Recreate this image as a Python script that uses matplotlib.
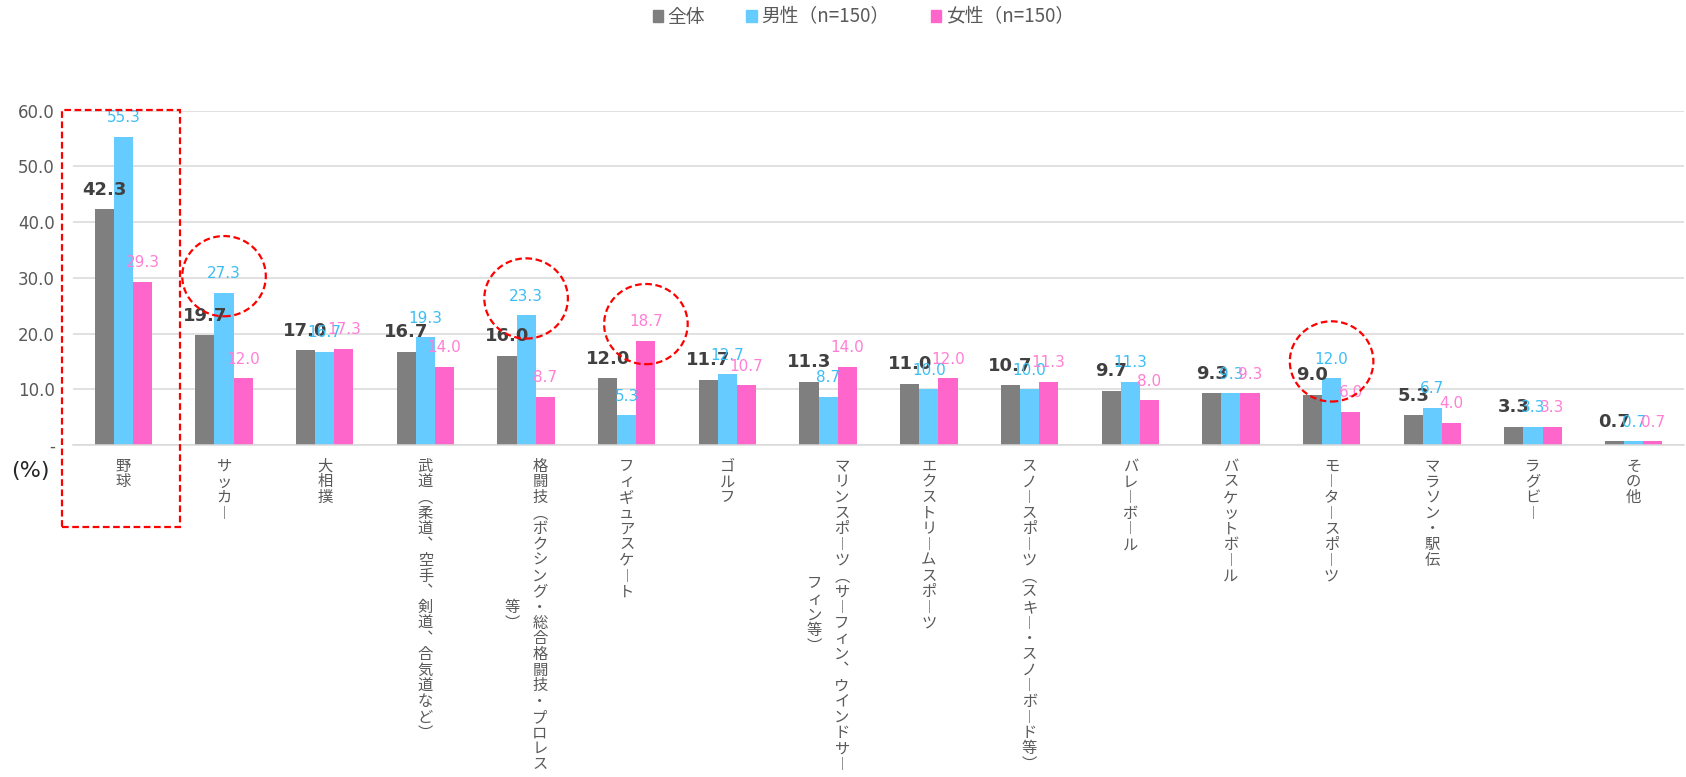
import numpy as np
import matplotlib.pyplot as plt
from matplotlib.patches import Patch, Ellipse, Rectangle

# データ
categories = ['野球', 'サッカー', '大相撲', '武道（柔道、空手、剣道、合気道など）',
              '格闘技（ボクシング・総合格闘技・プロレス等）', 'フィギュアスケート', 'ゴルフ',
              'マリンスポーツ（サーフィン、ウインドサーフィン等）', 'エクストリームスポーツ',
              'スノースポーツ（スキー・スノーボード等）', 'バレーボール', 'バスケットボール',
              'モータースポーツ', 'マラソン・駅伝', 'ラグビー', 'その他']
total = [42.3, 19.7, 17.0, 16.7, 16.0, 12.0, 11.7, 11.3, 11.0, 10.7, 9.7, 9.3, 9.0, 5.3, 3.3, 0.7]
male = [55.3, 27.3, 16.7, 19.3, 23.3, 5.3, 12.7, 8.7, 10.0, 10.0, 11.3, 9.3, 12.0, 6.7, 3.3, 0.7]
female = [29.3, 12.0, 17.3, 14.0, 8.7, 18.7, 10.7, 14.0, 12.0, 11.3, 8.0, 9.3, 6.0, 4.0, 3.3, 0.7]
legend_labels = ['全体', '男性（n=150）', '女性（n=150）']
yticks = [0, 10, 20, 30, 40, 50, 60]
ytick_labels = ['-', '10.0', '20.0', '30.0', '40.0', '50.0', '60.0']

boxed = 0                                   # 枠で囲むカテゴリ
circled = [(1, 1), (4, 1), (5, 2), (12, 1)]  # (カテゴリ, 系列) 丸で囲むラベル

JP = ['Noto Sans CJK JP', 'DejaVu Sans']
plt.rcParams['font.family'] = ['DejaVu Sans', 'Noto Sans CJK JP']

colors = ['#7F7F7F', '#66CCFF', '#FF66CC']
lab_colors = ['#404040', '#3DBDF5', '#FF7FD4']
lab_size = [13, 11, 11]
lab_weight = ['bold', 'normal', 'normal']

fig = plt.figure(figsize=(16.86, 7.77), dpi=100)
ax = fig.add_axes([73/1686, 332/777, 1611/1686, 334.3/777])

x = np.arange(len(categories))
w = 0.19
series = [total, male, female]
for k, vals in enumerate(series):
    off = (k - 1) * w
    ax.bar(x + off, vals, w, color=colors[k], zorder=2)
    for xi, v in zip(x, vals):
        ax.annotate(f'{v:.1f}', (xi + off, v), xytext=(0, 10.5), textcoords='offset points',
                    ha='center', va='baseline', color=lab_colors[k], fontsize=lab_size[k],
                    fontweight=lab_weight[k], zorder=4)

ax.set_xlim(-0.5, len(categories) - 0.5)
ax.set_ylim(0, 60)
ax.set_yticks(yticks)
ax.set_yticklabels(ytick_labels)
ax.tick_params(axis='y', length=0, pad=13, labelcolor='#595959', labelsize=12)
ax.tick_params(axis='x', length=0, labelbottom=False)
ax.yaxis.grid(True, color='#D9D9D9', lw=1.1)
ax.set_axisbelow(True)
for s in ['top', 'right', 'left']:
    ax.spines[s].set_visible(False)
ax.spines['bottom'].set_color('#D9D9D9')
ax.spines['bottom'].set_linewidth(1.1)

# 縦書きラベル
vert = str.maketrans({'ー': '︱', '（': '︵', '）': '︶', '、': '︑'})
pitch = 11.3    # pt
colgap = 19.8   # pt
for i, name in enumerate(categories):
    chars = name.translate(vert)
    cols = [chars[k:k+20] for k in range(0, len(chars), 20)]
    n0 = len(cols[0])
    for c, col in enumerate(cols):
        dx = (len(cols) - 1) / 2 * colgap - c * colgap
        dy0 = -18.5 - (n0 - len(col)) / 2 * pitch
        for j, ch in enumerate(col):
            ax.annotate(ch, (i, 0), xycoords=('data', 'axes fraction'),
                        xytext=(dx, dy0 - j * pitch), textcoords='offset points',
                        ha='center', va='baseline', fontsize=11, color='#595959',
                        family=JP, annotation_clip=False)

fig.text(30/1686, 1 - 471/777, '(%)', ha='center', va='center', fontsize=16, color='#262626')

# 強調の枠と丸
ax.add_patch(Rectangle((boxed - 0.61, -14.7), 1.17, 74.9, fill=False, edgecolor='#FF0000',
                       lw=1.6, ls=(0, (3, 1.6)), clip_on=False, zorder=5))
for ci, si in circled:
    v = series[si][ci]
    ax.add_patch(Ellipse((ci + (si - 1) * w, v + 3.0), 0.83, 14.4, fill=False,
                         edgecolor='#FF0000', lw=1.6, ls=(0, (3, 1.6)), clip_on=False, zorder=5))

handles = [Patch(color=c) for c in colors]
leg = fig.legend(handles, legend_labels, loc='center', bbox_to_anchor=(0.512, 0.978), ncol=3,
                 frameon=False, handlelength=0.55, handleheight=0.55, handletextpad=0.25,
                 columnspacing=2.2, prop={'family': JP, 'size': 13.5})
for t in leg.get_texts():
    t.set_color('#595959')

fig.savefig('out.png', dpi=100)
